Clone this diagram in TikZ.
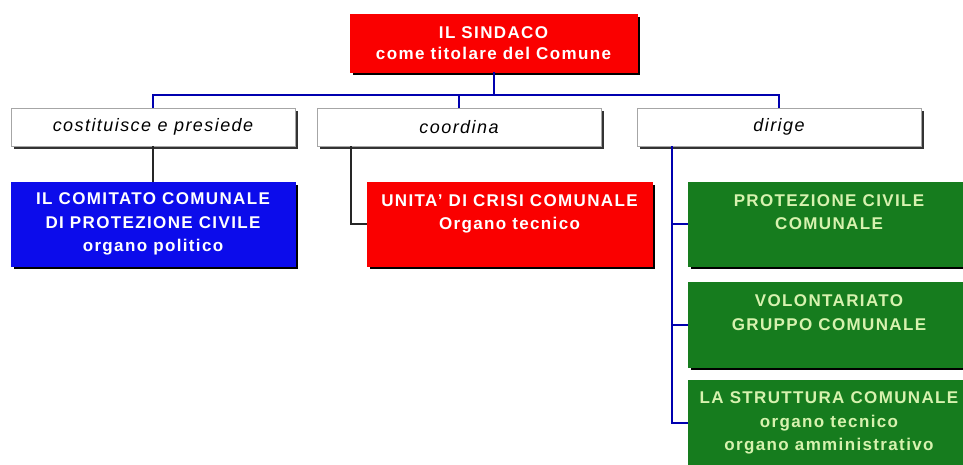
\documentclass[tikz,border=0pt]{standalone}
\usepackage{fontspec}
\setmainfont{Liberation Sans}[LetterSpace=8]
\usetikzlibrary{positioning, shadows}
\definecolor{redbox}{RGB}{250,0,0}
\definecolor{bluebox}{RGB}{12,12,235}
\definecolor{greenbox}{RGB}{22,124,30}
\definecolor{greentext}{RGB}{215,242,175}
\definecolor{blueline}{RGB}{0,0,175}
\tikzstyle{darkshadow} = [drop shadow={shadow xshift=3pt, shadow yshift=-3pt, fill=black, opacity=1}]
\tikzstyle{unit} = [rectangle, outer sep=0pt, inner sep=2pt, align=center, darkshadow, font=\fontsize{17}{23.5}\selectfont\bfseries]
\tikzstyle{verb} = [rectangle, outer sep=0pt, minimum width=284pt, minimum height=38pt, fill=white, draw=gray!70, drop shadow={shadow xshift=3pt, shadow yshift=-3pt, fill=black!80, opacity=1}, font=\fontsize{18}{20}\selectfont\itshape]
\tikzstyle{redunit} = [unit, fill=redbox, draw=redbox, text=white]
\tikzstyle{blueunit} = [unit, fill=bluebox, draw=bluebox, text=white]
\tikzstyle{greenunit} = [unit, fill=greenbox, draw=greenbox, text=greentext, minimum width=282pt]
\tikzstyle{bluelink} = [line width=2pt, draw=blueline]
\tikzstyle{blacklink} = [line width=1.6pt, draw=black!85]

\begin{document}
\begin{tikzpicture}[x=1pt, y=-1pt, node distance=36pt]
\useasboundingbox (0,0) rectangle (963,464);
\clip (0,0) rectangle (963,464);

\node (sindaco) [redunit, minimum width=287pt, minimum height=58pt, font=\fontsize{17}{21.5}\selectfont\bfseries] at (493.5,43) {IL SINDACO\\come titolare del Comune};

\node (costituisce) [verb] at (153,127) {costituisce e presiede};
\node (coordina) [verb, right=22pt of costituisce] {coordina};
\node (dirige) [verb, right=of coordina] {dirige};

\node (comitato) [blueunit, minimum width=284pt, minimum height=84pt, below=of costituisce] {IL COMITATO COMUNALE\\DI PROTEZIONE CIVILE\\organo politico};
\node (unita) [redunit, minimum width=285pt, minimum height=84pt, right=72pt of comitato] {UNITA' DI CRISI COMUNALE\\Organo tecnico\\~};
\node (protezione) [greenunit, minimum height=84pt, right=of unita] {PROTEZIONE CIVILE\\COMUNALE\\~};
\node (volontariato) [greenunit, minimum height=85pt, below=16pt of protezione] {VOLONTARIATO\\GRUPPO COMUNALE\\~};
\node (struttura) [greenunit, minimum height=86pt, below=13pt of volontariato] {LA STRUTTURA COMUNALE\\organo tecnico\\organo amministrativo};

\coordinate [below=23pt of sindaco] (bus);
\coordinate (hook) at ([xshift=34pt]coordina.south west);
\coordinate (trunk) at ([xshift=35pt]dirige.south west);

\draw [bluelink] (sindaco.south) -- (bus);
\draw [bluelink] (bus) -| (costituisce.north);
\draw [bluelink] (bus) -| (coordina.north);
\draw [bluelink] (bus) -| (dirige.north);

\draw [blacklink] (costituisce) -- (comitato);
\draw [blacklink] (hook) |- (unita.west);

\draw [bluelink] (trunk) |- (struttura.west);
\draw [bluelink] (trunk |- protezione.west) -- (protezione.west);
\draw [bluelink] (trunk |- volontariato.west) -- (volontariato.west);

\end{tikzpicture}
\end{document}
